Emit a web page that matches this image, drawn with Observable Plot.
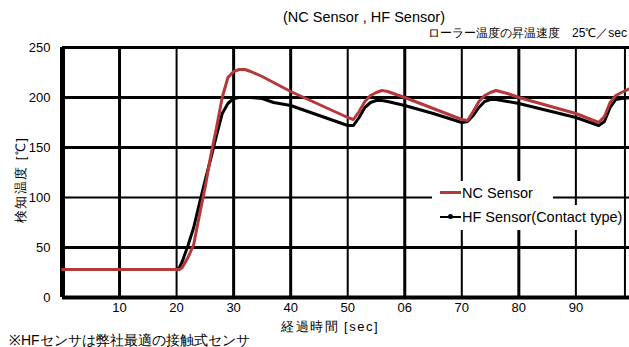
<!DOCTYPE html>
<html>
<head>
<meta charset="utf-8">
<script src="https://cdn.jsdelivr.net/npm/d3@7"></script>
<script src="https://cdn.jsdelivr.net/npm/@observablehq/plot@0.6"></script>
<style>
  body { margin: 0; background: #fff; }
  #wrap { position: relative; width: 629px; height: 347px; overflow: hidden; font-family: "Liberation Sans", Arial, sans-serif; color: #000; }
  .abs { position: absolute; white-space: nowrap; line-height: 1; }
  #title { left: 283px; top: 10px; font-size: 14.5px; }
  #subtitle { right: 2px; top: 27px; font-size: 12px; }
  #xlabel { left: 281px; top: 320px; font-size: 13px; letter-spacing: 1.5px; }
  #ylabel { left: 20px; top: 180px; font-size: 13px; letter-spacing: 1.5px; transform: translate(-50%, -50%) rotate(-90deg); }
  #foot { left: 9px; top: 333px; font-size: 14px; }
  .lg { position: absolute; background: #fff; font-size: 14.5px; }
  .sw { position: absolute; }
</style>
</head>
<body>
<div id="wrap">
  <div id="chart"></div>
  <div class="abs" id="title">(NC Sensor , HF Sensor)</div>
  <div class="abs" id="subtitle">ローラー温度の昇温速度　25℃／sec</div>
  <div class="abs" id="xlabel">経過時間 [sec]</div>
  <div class="abs" id="ylabel">検知温度 [℃]</div>
  <div class="abs" id="foot">※HFセンサは弊社最適の接触式センサ</div>
  <div class="lg" style="left:432px; top:181px; width:121px; height:25px;">
    <div class="sw" style="left:8px; top:10px; width:21px; height:3px; background:#b5393a;"></div>
    <div class="abs" style="left:30px; top:5px;">NC Sensor</div>
  </div>
  <div class="lg" style="left:432px; top:205px; width:190px; height:25px;">
    <div class="sw" style="left:8px; top:11px; width:21px; height:2px; background:#000;"></div>
    <div class="sw" style="left:16px; top:9px; width:5px; height:5px; border-radius:3px; background:#000;"></div>
    <div class="abs" style="left:30px; top:5px;">HF Sensor(Contact type)</div>
  </div>
</div>
<script>
const time = [0, 5, 10, 15, 20, 20.5, 21, 22, 23, 24, 25, 26, 27, 28, 29, 30, 31, 32, 33, 35, 37, 40, 45, 50, 51, 52, 53, 54, 55, 56, 57, 60, 65, 70, 71, 72, 73, 74, 75, 76, 78, 80, 85, 90, 94, 95, 96, 97, 98, 99.5];
const ncSensor = [28, 28, 28, 28, 28, 28, 30, 40, 53, 82, 110, 142, 170, 200, 220, 226, 228, 228, 226, 221, 215, 206, 193, 180, 178, 186, 196, 202, 205, 207, 206, 200, 189, 178, 177, 186, 196, 202, 205, 207, 204, 200, 192, 184, 175, 181, 195, 202, 205, 209];
const hfSensor = [28, 28, 28, 28, 28, 30, 36, 52, 70, 94, 117, 139, 162, 184, 194, 199, 200, 200, 200, 199, 195, 192, 182, 172, 172, 180, 190, 195, 197, 197, 196, 192, 184, 175, 176, 182, 190, 196, 198, 198, 196, 194, 187, 180, 172, 176, 190, 198, 199, 200];
const xTicks = [10, 20, 30, 40, 50, 60, 70, 80, 90];
const xTickLabels = ["10", "20", "30", "40", "50", "06", "70", "80", "90"];
const yTicks = [0, 50, 100, 150, 200, 250];

const nc = time.map((t, i) => ({t, v: ncSensor[i]}));
const hf = time.map((t, i) => ({t, v: hfSensor[i]}));
const thickX = new Set([10, 30, 40, 60, 80]);
const thickY = new Set([50, 150, 200]);

const chart = Plot.plot({
  width: 629,
  height: 347,
  marginLeft: 62,
  marginRight: 0,
  marginTop: 47,
  marginBottom: 50,
  style: {fontFamily: "Liberation Sans, Arial, sans-serif", fontSize: "13px", color: "#000", background: "transparent"},
  x: {domain: [0, 99.4]},
  y: {domain: [0, 250]},
  marks: [
    Plot.ruleX(xTicks, {stroke: "#000", strokeWidth: d => thickX.has(d) ? 3 : 2}),
    Plot.ruleX([98.6], {stroke: "#000", strokeWidth: 2}),
    Plot.ruleY(yTicks.filter(d => d > 0 && d < 250), {stroke: "#000", strokeWidth: d => thickY.has(d) ? 3 : 2}),
    Plot.ruleY([250], {stroke: "#000", strokeWidth: 3}),
    Plot.ruleY([0], {stroke: "#000", strokeWidth: 4}),
    Plot.ruleX([0], {stroke: "#000", strokeWidth: 5}),
    Plot.line(hf, {x: "t", y: "v", stroke: "#000", strokeWidth: 3}),
    Plot.line(nc, {x: "t", y: "v", stroke: "#b5393a", strokeWidth: 3}),
    Plot.axisX(xTicks, {tickSize: 0, tickPadding: 5, tickFormat: (d, i) => xTickLabels[i], fontSize: 13, label: null}),
    Plot.axisY(yTicks, {tickSize: 0, tickPadding: 12, fontSize: 13, label: null})
  ]
});
document.getElementById("chart").appendChild(chart);
</script>
</body>
</html>
